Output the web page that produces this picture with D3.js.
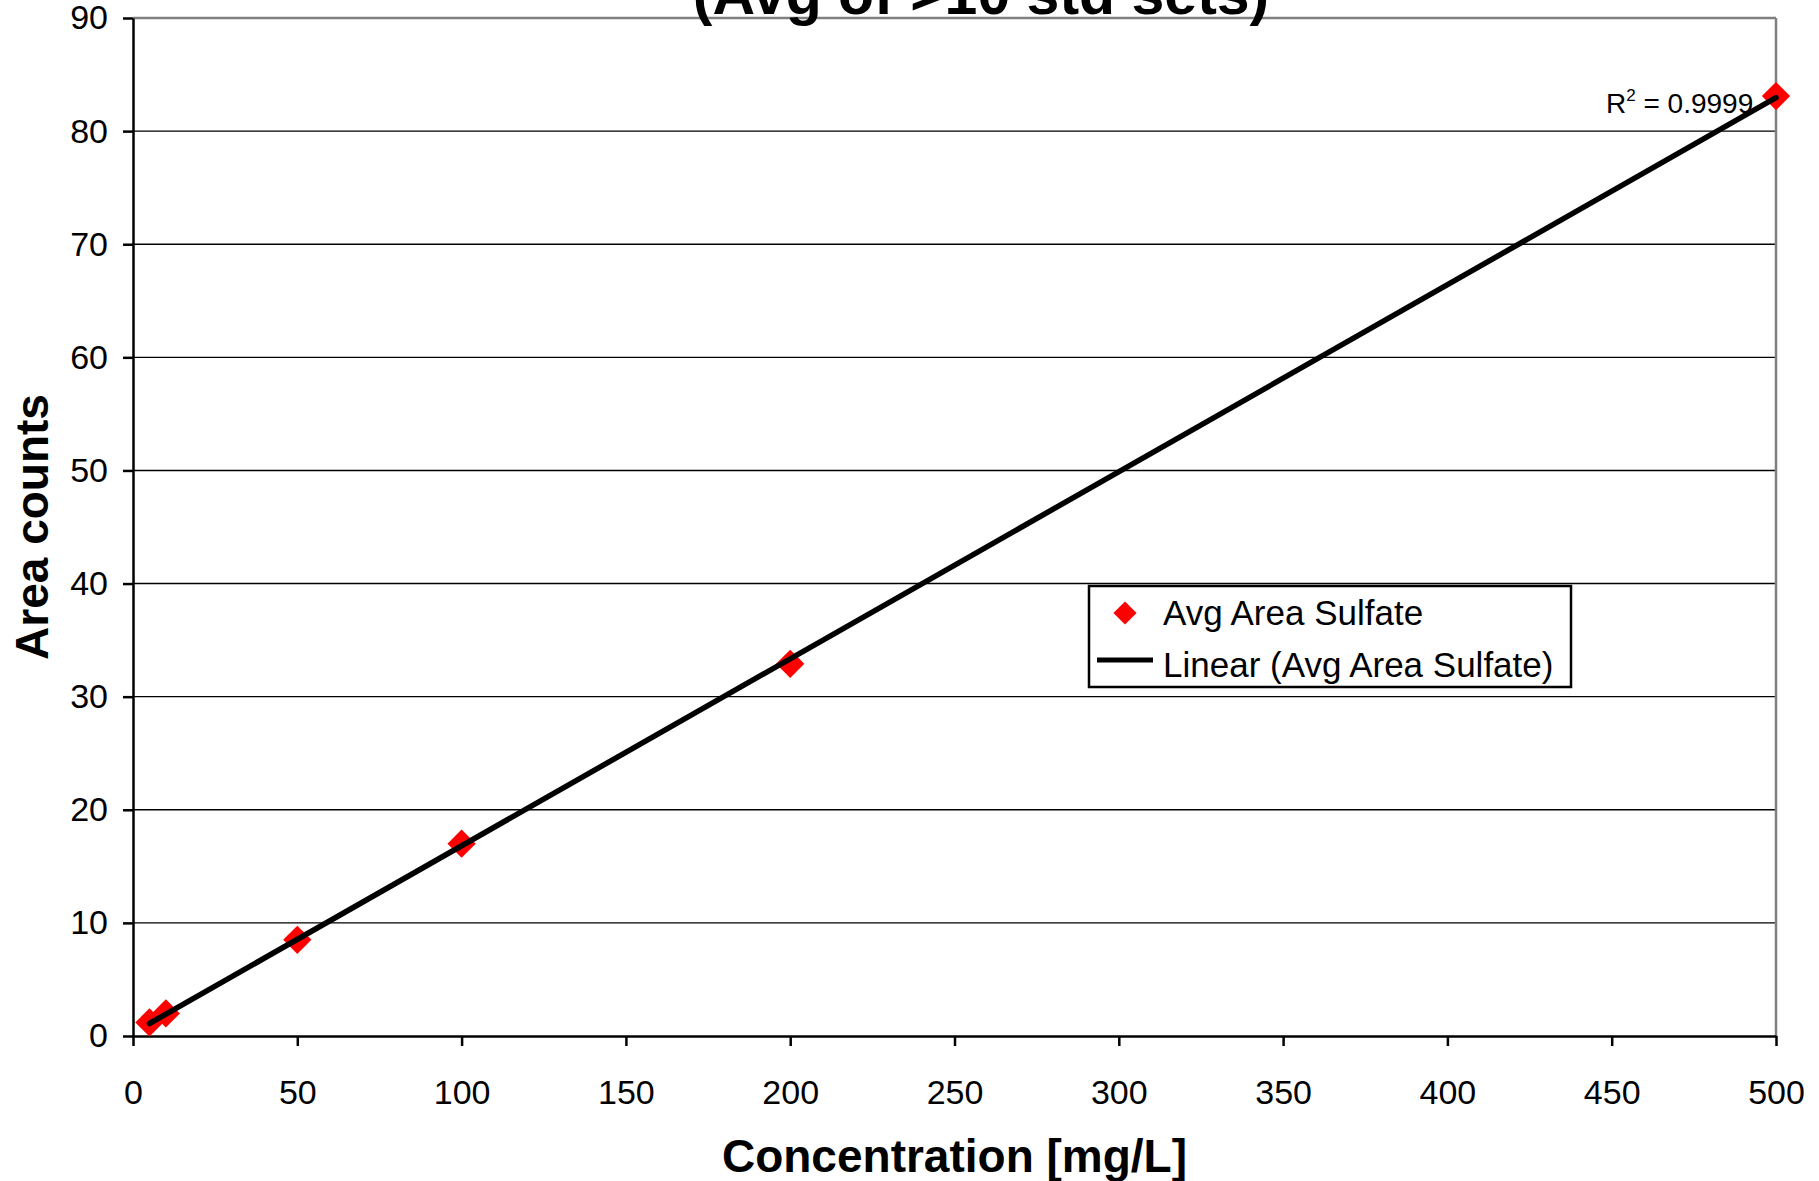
<!DOCTYPE html>
<html>
<head>
<meta charset="utf-8">
<script src="https://cdn.jsdelivr.net/npm/d3@7"></script>
<style>
  body { margin: 0; background: #fff; }
  svg { display: block; font-family: "Liberation Sans", Arial, sans-serif; }
</style>
</head>
<body>
<svg id="chart" width="1819" height="1181"></svg>
<script>
// data
const concentrations = [5, 10, 50, 100, 200, 500];
const avgArea = [1.2, 2.0, 8.5, 17.0, 32.9, 83.1];
const xTicks = [0, 50, 100, 150, 200, 250, 300, 350, 400, 450, 500];
const yTicks = [0, 10, 20, 30, 40, 50, 60, 70, 80, 90];
const titleText = "(Avg of >10 std sets)";
const xTitle = "Concentration [mg/L]";
const yTitle = "Area counts";
const seriesName = "Avg Area Sulfate";
const trendName = "Linear (Avg Area Sulfate)";
const r2Text = "0.9999";

const svg = d3.select("#chart");

const plotLeft = 133, plotRight = 1776, plotTop = 18, plotBottom = 1036;

const x = d3.scaleLinear().domain([0, 500]).range([plotLeft, plotRight]);
const y = d3.scaleLinear().domain([0, 90]).range([plotBottom, plotTop]);

// gridlines
svg.append("g")
  .selectAll("line")
  .data(yTicks.filter(d => d > 0))
  .join("line")
  .attr("x1", plotLeft).attr("x2", plotRight)
  .attr("y1", d => y(d)).attr("y2", d => y(d))
  .attr("stroke", d => d === 90 ? "#808080" : "#000")
  .attr("stroke-width", d => d === 90 ? 2.5 : 1.4);

// right border
svg.append("line")
  .attr("x1", plotRight).attr("x2", plotRight)
  .attr("y1", plotTop).attr("y2", plotBottom)
  .attr("stroke", "#808080").attr("stroke-width", 2.5);

// axes
const xAxis = svg.append("g")
  .attr("transform", `translate(0,${plotBottom})`)
  .call(d3.axisBottom(x).tickValues(xTicks).tickSize(10).tickSizeOuter(0).tickPadding(34));

const yAxis = svg.append("g")
  .attr("transform", `translate(${plotLeft},0)`)
  .call(d3.axisLeft(y).tickValues(yTicks).tickSize(10).tickSizeOuter(0).tickPadding(15));

[xAxis, yAxis].forEach(g => {
  g.select(".domain").attr("stroke", "#000").attr("stroke-width", 2.5);
  g.selectAll(".tick line").attr("stroke", "#000").attr("stroke-width", 2.5);
  g.selectAll(".tick text")
    .attr("fill", "#000")
    .attr("font-size", 34)
    .attr("font-family", "'Liberation Sans', Arial, sans-serif");
});

// linear trendline (least squares)
const n = concentrations.length;
const mx = d3.mean(concentrations), my = d3.mean(avgArea);
let sxy = 0, sxx = 0;
for (let i = 0; i < n; i++) {
  sxy += (concentrations[i] - mx) * (avgArea[i] - my);
  sxx += (concentrations[i] - mx) ** 2;
}
const slope = sxy / sxx;
const intercept = my - slope * mx;
const xExt = d3.extent(concentrations);

// points
const diamond = d3.symbol().type(d3.symbolSquare).size(400);
svg.append("g")
  .selectAll("path")
  .data(concentrations.map((c, i) => [c, avgArea[i]]))
  .join("path")
  .attr("d", diamond)
  .attr("transform", d => `translate(${x(d[0])},${y(d[1])}) rotate(45)`)
  .attr("fill", "#ff0000");

const line = d3.line().x(d => x(d)).y(d => y(slope * d + intercept));
svg.append("path")
  .datum(xExt)
  .attr("d", line)
  .attr("fill", "none")
  .attr("stroke", "#000")
  .attr("stroke-width", 5.5)
  .attr("stroke-linecap", "round");

// R squared label
const r2 = svg.append("text")
  .attr("x", 1606).attr("y", 113)
  .attr("font-size", 28)
  .attr("fill", "#000");
r2.append("tspan").text("R");
r2.append("tspan").attr("font-size", 17).attr("dy", -12).text("2");
r2.append("tspan").attr("dy", 12).text(" = " + r2Text);

// legend
const lg = svg.append("g");
lg.append("rect")
  .attr("x", 1089).attr("y", 586)
  .attr("width", 482).attr("height", 101)
  .attr("fill", "#fff").attr("stroke", "#000").attr("stroke-width", 2.5);
lg.append("path")
  .attr("d", d3.symbol().type(d3.symbolSquare).size(270))
  .attr("transform", "translate(1125,613) rotate(45)")
  .attr("fill", "#ff0000");
lg.append("line")
  .attr("x1", 1097).attr("x2", 1153)
  .attr("y1", 660).attr("y2", 660)
  .attr("stroke", "#000").attr("stroke-width", 5);
lg.append("text").attr("x", 1163).attr("y", 625)
  .attr("font-size", 35).text(seriesName);
lg.append("text").attr("x", 1163).attr("y", 677)
  .attr("font-size", 35).text(trendName);

// titles
svg.append("text")
  .attr("x", 981).attr("y", 14)
  .attr("text-anchor", "middle")
  .attr("font-size", 59).attr("font-weight", "bold")
  .text(titleText);

svg.append("text")
  .attr("x", (plotLeft + plotRight) / 2).attr("y", 1172)
  .attr("text-anchor", "middle")
  .attr("font-size", 46).attr("font-weight", "bold")
  .text(xTitle);

svg.append("text")
  .attr("transform", `translate(48,${(plotTop + plotBottom) / 2}) rotate(-90)`)
  .attr("text-anchor", "middle")
  .attr("font-size", 46).attr("font-weight", "bold")
  .text(yTitle);
</script>
</body>
</html>
